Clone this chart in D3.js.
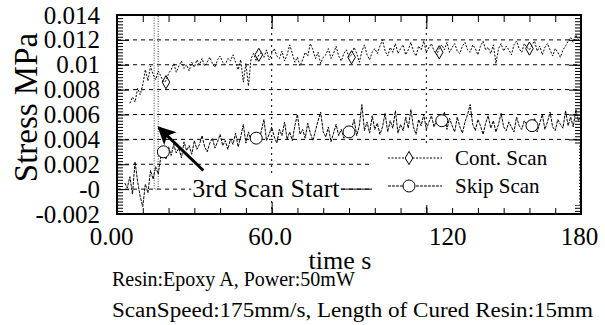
<!DOCTYPE html>
<html>
<head>
<meta charset="utf-8">
<script src="https://cdn.jsdelivr.net/npm/d3@7"></script>
<style>
  body { margin: 0; background: #fff; }
  svg text { font-family: 'Liberation Serif'; }
</style>
</head>
<body>
<div id="chart"></div>
<script>
// values in units of 0.001 MPa, one sample per second
var contStart = 5;
var contValues = [6.9, 7.4, 7.0, 8.1, 7.6, 8.4, 9.6, 8.7, 9.9, 9.2, 8.8, 9.5, 9.1, 8.6, 8.7, 9.3,
  9.6, 10.1, 9.4, 9.9, 10.3, 9.7, 10.0, 9.5, 10.2, 9.8, 10.4,
  10.0, 10.5, 9.9, 10.2, 10.6, 10.1, 9.8, 10.4, 10.7, 10.2, 10.0, 10.5, 10.3, 10.8,
  10.2, 9.6, 10.4, 8.6, 10.1, 8.3, 10.5, 10.9, 10.3, 10.8,
  11.0, 10.6, 11.2, 10.4, 10.9, 11.3, 10.7, 10.5, 11.1, 10.3, 10.8, 11.6, 10.9, 10.2, 10.6, 9.9, 10.4, 11.0, 10.7, 11.7, 11.2, 10.5, 11.0, 10.1, 10.6,
  10.8, 11.3, 10.5, 10.9, 11.5, 10.7, 10.3, 10.9, 11.2, 10.6, 10.8, 11.4, 10.9, 10.2, 11.1, 11.6, 10.8, 10.4, 11.0, 11.3,
  10.9, 11.5, 12.0, 11.1, 10.7, 11.4, 11.0, 11.7, 10.9, 11.3, 11.6, 10.8, 11.2, 11.8, 11.1, 10.7, 11.5, 11.2, 11.9, 11.0, 11.4, 11.7, 11.1, 10.8, 11.3, 11.6, 11.2, 11.8, 11.0, 11.4,
  11.7, 11.1, 10.9, 11.5, 11.8, 11.2, 11.0, 11.6, 11.3, 10.8, 11.5, 11.9, 11.2, 11.4, 10.9, 11.6, 10.1, 11.3, 11.7, 11.1, 11.5, 11.2, 10.8, 11.6, 11.9, 11.3, 11.0, 11.7, 11.4, 11.2,
  11.6, 11.9, 11.1, 11.5, 10.8, 11.4, 11.7, 11.2, 10.7, 11.3, 11.0, 10.6, 11.2, 11.5, 11.9, 12.2, 11.8, 12.4, 12.0, 12.3];

var skipStart = 3;
var skipValues = [0.5, 0.1, 1.0, -0.4, 2.2, 0.6, -0.6, -1.4, 0.4, -0.3, 1.5, 0.8, 1.8, 1.2, 2.6, 3.0, 2.4, 3.4,
  2.7, 3.6, 2.9, 3.3, 2.5, 3.8, 3.1, 3.5, 2.8, 3.9, 3.2, 3.6, 4.3, 3.4, 3.0, 3.7, 4.1, 3.3, 3.8, 4.4,
  3.5, 3.9, 3.2, 4.0, 3.6, 4.5, 3.4, 4.2, 5.2, 3.7, 4.6, 3.9, 4.3, 4.1, 3.8, 4.7, 5.6, 3.9, 4.4, 5.0,
  4.2, 3.7, 4.8, 4.3, 5.4, 4.0, 4.6, 3.9, 5.1, 6.0, 4.4, 4.8, 4.1, 5.3, 4.5, 3.9, 4.7, 5.5, 6.2, 4.6, 4.2, 5.0, 3.8, 4.5, 5.2, 4.3, 4.8, 4.1, 4.6, 4.5,
  4.9, 5.6, 4.3, 5.1, 6.8, 4.7, 5.4, 4.5, 5.9, 4.8, 5.3, 4.4, 5.0, 6.1, 4.6, 5.5, 4.9, 6.3, 4.5, 5.2, 4.7, 5.8, 4.9, 6.4, 5.0, 4.4, 5.6, 5.1, 6.0, 4.8,
  5.4, 5.9, 5.0, 5.6, 5.3, 5.5, 6.2, 4.8, 5.7, 5.1, 4.6, 5.8, 5.0, 4.5, 5.4, 6.0, 6.8, 5.2, 4.7, 5.6, 5.1, 4.4, 5.3, 5.9, 4.9, 5.5, 4.6, 5.2, 6.1, 5.0,
  4.7, 5.4, 5.0, 4.6, 5.8, 5.1, 4.8, 5.5, 5.2, 4.9, 5.1, 5.7, 4.6, 5.3, 6.0, 4.8, 5.4, 6.2, 5.0, 4.7, 5.6, 5.2, 4.9, 6.3, 5.1, 5.8, 5.0, 6.4, 5.5, 5.9];

var contMarkTimes = [19, 55, 91, 125, 160];
var contMarkValues = [8.6, 10.8, 10.6, 11.0, 11.3];
var skipMarkTimes = [18, 54, 90, 126, 161];
var skipMarkValues = [3.0, 4.1, 4.6, 5.5, 5.1];

var xTicks = [0, 60, 120, 180];
var xTickLabels = ["0.00", "60.0", "120", "180"];
var yTicks = [0.014, 0.012, 0.010, 0.008, 0.006, 0.004, 0.002, 0, -0.002];
var yTickLabels = ["0.014", "0.012", "0.01", "0.008", "0.006", "0.004", "0.002", "-0", "-0.002"];
var scanStart = 15.2;

// label nudges, as in the original figure
var xLabelDx = [-6, -2, 21, -2];

var margin = {top: 15, right: 24, bottom: 111, left: 117},
    width = 605 - margin.left - margin.right,
    height = 325 - margin.top - margin.bottom;

var svg = d3.select("#chart")
  .append("svg")
    .attr("width", 605)
    .attr("height", 325)
    .attr("font-family", "Liberation Serif");

var chart = svg.append("g")
    .attr("transform", "translate(" + margin.left + "," + margin.top + ")");

var x = d3.scaleLinear().domain([0, 180]).range([0, width]);
var y = d3.scaleLinear().domain([-0.002, 0.014]).range([height, 0]);

// grid
chart.append("g").selectAll("line")
  .data(yTicks.filter(function(d) { return d < 0.013 && d > -0.001; }))
  .enter().append("line")
    .attr("x1", 0).attr("x2", width)
    .attr("y1", function(d) { return y(d); })
    .attr("y2", function(d) { return y(d); })
    .attr("stroke", "#000").attr("stroke-width", 1)
    .attr("stroke-dasharray", "4,4");
chart.append("g").selectAll("line")
  .data([60, 120])
  .enter().append("line")
    .attr("x1", function(d) { return x(d); })
    .attr("x2", function(d) { return x(d); })
    .attr("y1", 0).attr("y2", height)
    .attr("stroke", "#000").attr("stroke-width", 1)
    .attr("stroke-dasharray", "2,4");

// 3rd scan start marker
chart.append("rect")
    .attr("x", x(scanStart) - 2).attr("width", 4)
    .attr("y", y(0.014)).attr("height", y(0) - y(0.014))
    .attr("fill", "none").attr("stroke", "#444")
    .attr("stroke-width", 1).attr("stroke-dasharray", "1,1.5");

var line = d3.line()
  .x(function(d) { return x(d.t); })
  .y(function(d) { return y(d.v * 0.001); });

var contData = contValues.map(function(v, i) { return {t: contStart + i, v: v}; });
var skipData = skipValues.map(function(v, i) { return {t: skipStart + i, v: v}; });

chart.append("path").datum(contData)
  .attr("fill", "none").attr("stroke", "#000")
  .attr("stroke-width", 1).attr("stroke-dasharray", "2,1.5")
  .attr("d", line);
chart.append("path").datum(skipData)
  .attr("fill", "none").attr("stroke", "#000")
  .attr("stroke-width", 1).attr("stroke-dasharray", "3,1")
  .attr("d", line);

var diamond = d3.symbol().type(d3.symbolDiamond).size(50);
chart.append("g").selectAll("path")
  .data(contMarkTimes)
  .enter().append("path")
    .attr("d", diamond)
    .attr("transform", function(d, i) { return "translate(" + x(d) + "," + y(contMarkValues[i] * 0.001) + ")"; })
    .attr("fill", "none").attr("stroke", "#000").attr("stroke-width", 1);
chart.append("g").selectAll("circle")
  .data(skipMarkTimes)
  .enter().append("circle")
    .attr("cx", function(d) { return x(d); })
    .attr("cy", function(d, i) { return y(skipMarkValues[i] * 0.001); })
    .attr("r", 6)
    .attr("fill", "#fff").attr("stroke", "#000").attr("stroke-width", 1);

// axes
function clean(g) {
  g.attr("font-family", "Liberation Serif").attr("font-size", null);
  g.select(".domain").remove();
  g.selectAll("line").attr("stroke", "#000");
  g.selectAll("text").attr("fill", "#000");
}

chart.append("g")
  .call(d3.axisLeft(y).tickValues(yTicks)
    .tickFormat(function(d, i) { return yTickLabels[i]; })
    .tickSizeInner(-12).tickSizeOuter(0).tickPadding(17))
  .call(clean)
  .call(function(g) { g.selectAll("text").attr("font-size", 25); });
chart.append("g")
  .call(d3.axisLeft(y).tickValues(d3.range(-0.002, 0.01401, 0.00025))
    .tickFormat("").tickSizeInner(-6).tickSizeOuter(0))
  .call(clean);
chart.append("g").attr("transform", "translate(" + width + ",0)")
  .call(d3.axisRight(y).tickValues(yTicks).tickFormat("").tickSizeInner(-12).tickSizeOuter(0))
  .call(clean);
chart.append("g").attr("transform", "translate(" + width + ",0)")
  .call(d3.axisRight(y).tickValues(d3.range(-0.002, 0.01401, 0.00025))
    .tickFormat("").tickSizeInner(-6).tickSizeOuter(0))
  .call(clean);

chart.append("g").attr("transform", "translate(0," + height + ")")
  .call(d3.axisBottom(x).tickValues(xTicks)
    .tickFormat(function(d, i) { return xTickLabels[i]; })
    .tickSizeInner(-12).tickSizeOuter(0).tickPadding(13))
  .call(clean)
  .call(function(g) {
    g.selectAll("text").attr("font-size", 25)
      .attr("dx", function(d, i) { return xLabelDx[i]; });
  });
chart.append("g").attr("transform", "translate(0," + height + ")")
  .call(d3.axisBottom(x).tickValues(d3.range(0, 181, 10)).tickFormat("").tickSizeInner(-6).tickSizeOuter(0))
  .call(clean);
chart.append("g")
  .call(d3.axisTop(x).tickValues(xTicks).tickFormat("").tickSizeInner(-14).tickSizeOuter(0))
  .call(clean);
chart.append("g")
  .call(d3.axisTop(x).tickValues(d3.range(0, 181, 10)).tickFormat("").tickSizeInner(-7).tickSizeOuter(0))
  .call(clean);

// annotation
chart.append("rect")
  .attr("x", x(28.8)).attr("y", y(0) - 14)
  .attr("width", x(86.5) - x(28.8)).attr("height", 24)
  .attr("fill", "#fff");
chart.append("text")
  .attr("x", x(29.2)).attr("y", y(0) + 8)
  .attr("font-size", 26)
  .text("3rd Scan Start");
chart.append("line")
  .attr("x1", x(86.8)).attr("x2", x(99))
  .attr("y1", y(0)).attr("y2", y(0))
  .attr("stroke", "#000").attr("stroke-width", 1);

svg.append("defs").append("marker")
  .attr("id", "head")
  .attr("viewBox", "0 0 10 10")
  .attr("refX", 9).attr("refY", 5)
  .attr("markerWidth", 8).attr("markerHeight", 6)
  .attr("orient", "auto")
  .append("path").attr("d", "M0,0 L10,5 L0,10 L2.5,5 Z").attr("fill", "#000");
chart.append("line")
  .attr("x1", x(33.5)).attr("y1", y(0.0015))
  .attr("x2", x(16.2)).attr("y2", y(0.00495))
  .attr("stroke", "#000").attr("stroke-width", 3)
  .attr("marker-end", "url(#head)");

// legend
var legend = chart.append("g").attr("transform", "translate(255,130)");
legend.append("rect").attr("x", 0).attr("y", 0).attr("width", 207).attr("height", 60).attr("fill", "#fff");
legend.append("line").attr("x1", 16).attr("x2", 70).attr("y1", 13).attr("y2", 13)
  .attr("stroke", "#000").attr("stroke-width", 1).attr("stroke-dasharray", "2,1.5");
legend.append("path").attr("d", diamond).attr("transform", "translate(37,13)")
  .attr("fill", "#fff").attr("stroke", "#000");
legend.append("text").attr("x", 83).attr("y", 20).attr("font-size", 21).text("Cont. Scan");
legend.append("line").attr("x1", 16).attr("x2", 70).attr("y1", 41).attr("y2", 41)
  .attr("stroke", "#000").attr("stroke-width", 1).attr("stroke-dasharray", "3,1");
legend.append("circle").attr("cx", 37).attr("cy", 41).attr("r", 6)
  .attr("fill", "#fff").attr("stroke", "#000");
legend.append("text").attr("x", 83).attr("y", 48).attr("font-size", 21).text("Skip Scan");

// frame
chart.append("rect")
  .attr("width", width).attr("height", height)
  .attr("fill", "none").attr("stroke", "#000").attr("stroke-width", 2);

// axis titles and notes
svg.append("text")
  .attr("transform", "translate(37," + (margin.top + height / 2 - 7) + ") rotate(-90)")
  .attr("text-anchor", "middle")
  .attr("font-size", 33)
  .text("Stress MPa");
svg.append("text")
  .attr("x", 340).attr("y", 269)
  .attr("text-anchor", "middle")
  .attr("font-size", 26)
  .text("time s");
svg.append("text").attr("x", 112).attr("y", 286).attr("font-size", 20)
  .text("Resin:Epoxy A, Power:50mW");
svg.append("text").attr("x", 112).attr("y", 317).attr("font-size", 20)
  .attr("textLength", 481).attr("lengthAdjust", "spacingAndGlyphs")
  .text("ScanSpeed:175mm/s, Length of Cured Resin:15mm");

svg.selectAll("text").attr("font-family", "Liberation Serif");
</script>
</body>
</html>
